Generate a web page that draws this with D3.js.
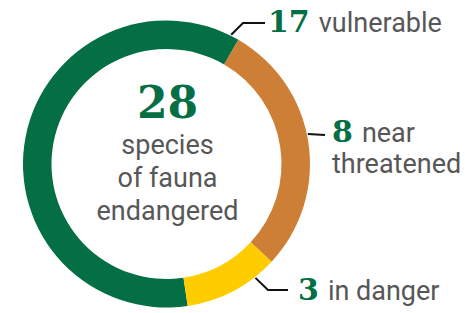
<!DOCTYPE html>
<html lang="en">
<head>
    <meta charset="UTF-8">
    <script src="https://d3js.org/d3.v7.min.js"></script>
    <title>Endangered fauna</title>
    <style>
        body { margin: 0; background: #fff; }
        .num { font-family: "DejaVu Serif", serif; font-weight: bold; fill: #046e45; }
        .lbl { font-family: Roboto, sans-serif; fill: #575757; }
        .leader { fill: none; stroke: #111; stroke-width: 2px; }
    </style>
</head>
<body>
    <svg id="chart" width="465" height="313"></svg>

    <script>
    // data
    var categories = ["vulnerable", "near threatened", "in danger"];
    var counts = [17, 8, 3];
    var colors = ["#046e45", "#cd7f35", "#ffcc00"];
    var totalLabel = ["species", "of fauna", "endangered"];

    var total = d3.sum(counts);

    // layout
    var cx = 166.5, cy = 164;
    var outerR = 143.5, innerR = 115;
    var deg = Math.PI / 180;
    var start = -188.5 * deg;

    var svg = d3.select("#chart");
    var g = svg.append("g").attr("transform", "translate(" + cx + "," + cy + ")");

    var pie = d3.pie().sort(null).value(d => d).startAngle(start).endAngle(start + 2 * Math.PI);
    var arc = d3.arc().innerRadius(innerR).outerRadius(outerR);

    g.selectAll("path.slice")
        .data(pie(counts))
        .join("path")
        .attr("class", "slice")
        .attr("d", arc)
        .attr("fill", (d, i) => colors[i]);

    // centre text
    g.append("text")
        .attr("class", "num")
        .attr("text-anchor", "middle")
        .attr("x", 1)
        .attr("y", -46)
        .style("font-size", "44px")
        .text(total);

    g.selectAll("text.centre")
        .data(totalLabel)
        .join("text")
        .attr("class", "lbl centre")
        .attr("text-anchor", "middle")
        .attr("x", 1)
        .attr("y", (d, i) => -10 + i * 33)
        .style("font-size", "27px")
        .text(d => d);

    // labels: leader angle on ring, elbow, end, text position
    var labelLayout = [
        {angle: 26.6, elbow: [243, 23], end: [265, 23], x: 268, y: 32, lines: ["vulnerable"]},
        {angle: 78, elbow: null, end: [325, 135], x: 332, y: 142, lines: ["near", "threatened"]},
        {angle: 142, elbow: [268, 290], end: [288, 290], x: 298, y: 300, lines: ["in danger"]}
    ];

    var lbls = svg.append("g");
    labelLayout.forEach(function(L, i) {
        var a = L.angle * deg;
        var p0 = [cx + Math.sin(a) * (outerR + 1), cy - Math.cos(a) * (outerR + 1)];
        var pts = [p0];
        if (L.elbow) pts.push(L.elbow);
        pts.push(L.end);
        lbls.append("path")
            .attr("class", "leader")
            .attr("d", d3.line()(pts));

        var t = lbls.append("text")
            .attr("x", L.x)
            .attr("y", L.y);
        t.append("tspan")
            .attr("class", "num")
            .style("font-size", "30px")
            .text(counts[i]);
        t.append("tspan")
            .attr("class", "lbl")
            .attr("dx", 9)
            .style("font-size", "27px")
            .text(L.lines[0]);
        if (L.lines.length > 1) {
            lbls.append("text")
                .attr("class", "lbl")
                .attr("x", L.x)
                .attr("y", L.y + 31)
                .style("font-size", "27px")
                .text(L.lines[1]);
        }
    });
    </script>
</body>
</html>
